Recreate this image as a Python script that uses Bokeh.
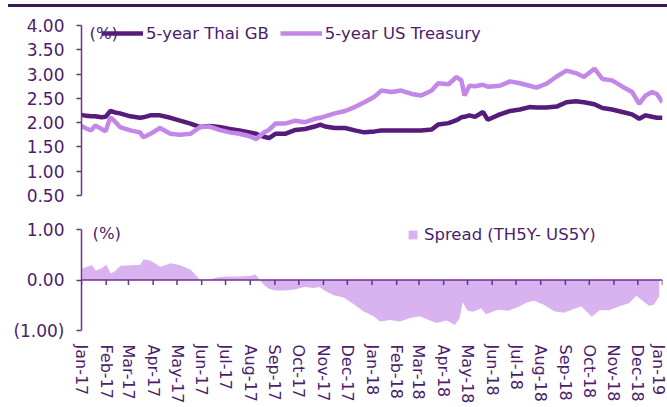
import numpy as np
import pandas as pd
from bokeh.plotting import figure
from bokeh.models import (ColumnDataSource, FixedTicker, NumeralTickFormatter, Legend, LegendItem,
                          Label, Span, Div, DatetimeTickFormatter, Range1d)
from bokeh.layouts import column
from bokeh.embed import file_html
from bokeh.resources import INLINE

# ---------------- data ----------------
dates = ["2017-01-02", "2017-01-08", "2017-01-14", "2017-01-19", "2017-01-27", "2017-02-01", "2017-02-07",
         "2017-02-13", "2017-02-19", "2017-03-04", "2017-03-16", "2017-03-20", "2017-03-29", "2017-04-10",
         "2017-04-23", "2017-05-05", "2017-05-18", "2017-05-30", "2017-06-11", "2017-06-23", "2017-07-06",
         "2017-07-18", "2017-07-31", "2017-08-08", "2017-08-12", "2017-08-18", "2017-08-24", "2017-09-01",
         "2017-09-13", "2017-09-26", "2017-10-08", "2017-10-20", "2017-10-27", "2017-11-02", "2017-11-14",
         "2017-11-27", "2017-12-09", "2017-12-21", "2018-01-03", "2018-01-11", "2018-01-24", "2018-02-05",
         "2018-02-18", "2018-03-02", "2018-03-15", "2018-03-23", "2018-04-05", "2018-04-15", "2018-04-21",
         "2018-04-25", "2018-05-01", "2018-05-08", "2018-05-18", "2018-05-24", "2018-06-08", "2018-06-21",
         "2018-07-03", "2018-07-15", "2018-07-24", "2018-08-05", "2018-08-18", "2018-08-30", "2018-09-11",
         "2018-09-21", "2018-10-04", "2018-10-14", "2018-10-26", "2018-11-08", "2018-11-20", "2018-11-29",
         "2018-12-07", "2018-12-15", "2018-12-21", "2018-12-28"]

thai_5y = [2.16, 2.14, 2.13, 2.13, 2.11, 2.12, 2.24, 2.21, 2.19, 2.13, 2.10, 2.11, 2.15, 2.15,
           2.10, 2.04, 1.98, 1.91, 1.93, 1.91, 1.87, 1.84, 1.80, 1.77, 1.74, 1.71, 1.68, 1.77,
           1.77, 1.85, 1.87, 1.92, 1.96, 1.92, 1.89, 1.89, 1.84, 1.80, 1.82, 1.84, 1.84, 1.84,
           1.84, 1.84, 1.86, 1.96, 1.99, 2.05, 2.11, 2.12, 2.15, 2.12, 2.22, 2.06, 2.17, 2.24,
           2.27, 2.32, 2.31, 2.31, 2.33, 2.42, 2.44, 2.42, 2.38, 2.30, 2.27, 2.22, 2.17, 2.08,
           2.15, 2.12, 2.10, 2.10]

us_5y = [1.93, 1.88, 1.84, 1.94, 1.87, 1.82, 2.11, 2.02, 1.91, 1.84, 1.80, 1.70, 1.77, 1.89,
         1.77, 1.75, 1.77, 1.91, 1.92, 1.85, 1.80, 1.77, 1.72, 1.66, 1.72, 1.80, 1.85, 1.98,
         1.98, 2.04, 2.01, 2.08, 2.10, 2.13, 2.19, 2.24, 2.32, 2.42, 2.54, 2.66, 2.63, 2.66,
         2.59, 2.56, 2.66, 2.81, 2.79, 2.94, 2.87, 2.56, 2.76, 2.75, 2.78, 2.74, 2.76, 2.85,
         2.81, 2.76, 2.72, 2.80, 2.95, 3.07, 3.02, 2.94, 3.11, 2.90, 2.87, 2.74, 2.63, 2.39,
         2.56, 2.63, 2.59, 2.42]

top_ticks = [0.5, 1.0, 1.5, 2.0, 2.5, 3.0, 3.5, 4.0]
bottom_ticks = [-1.0, 0.0, 1.0]
bottom_tick_labels = {-1.0: "(1.00)", 0.0: "0.00", 1.0: "1.00"}
month_starts = pd.date_range("2017-01-01", "2019-01-01", freq="MS")

series_names = ["5-year Thai GB", "5-year US Treasury"]
spread_name = "Spread (TH5Y- US5Y)"

# ---------------- styles ----------------
FONT = "DejaVu Sans"
TEXT = "#4B1D6B"
AXIS = "#6E3190"
TH_COLOR = "#561C7A"
US_COLOR = "#C387E8"
SPREAD_COLOR = "#D9B3F0"
BAR = "#371A52"

df = pd.DataFrame({"date": pd.to_datetime(dates), "th": thai_5y, "us": us_5y})
df["spread"] = df["th"] - df["us"]
src = ColumnDataSource(df)


def style_yaxis(ax):
    ax.axis_line_color = AXIS
    ax.axis_line_width = 1.5
    ax.major_tick_line_color = AXIS
    ax.major_tick_line_width = 1.5
    ax.major_tick_out = 5
    ax.major_tick_in = 0
    ax.minor_tick_line_color = None
    ax.major_label_text_font = FONT
    ax.major_label_text_font_size = "17px"
    ax.major_label_text_color = TEXT
    ax.major_label_standoff = 12


# ---------------- title bar ----------------
bar = Div(text="", width=659, height=3, margin=(4, 0, 0, 8), styles={"background-color": BAR})

# ---------------- top chart ----------------
p1 = figure(width=667, height=198, x_axis_type="datetime", output_backend="svg", toolbar_location=None,
            x_range=Range1d(pd.Timestamp(dates[0]), pd.Timestamp(dates[-1])),
            y_range=Range1d(0.5, 4.0),
            min_border_left=80, min_border_right=0, min_border_top=18, min_border_bottom=10)
p1.outline_line_color = None
p1.grid.visible = False
p1.xaxis.visible = False
style_yaxis(p1.yaxis[0])
p1.yaxis.ticker = FixedTicker(ticks=top_ticks)
p1.yaxis.formatter = NumeralTickFormatter(format="0.00")

r_th = p1.line(x="date", y="th", source=src, line_color=TH_COLOR, line_width=4.5)
r_us = p1.line(x="date", y="us", source=src, line_color=US_COLOR, line_width=4.5)

leg1 = Legend(items=[LegendItem(label=series_names[0], renderers=[r_th]),
                     LegendItem(label=series_names[1], renderers=[r_us])],
              orientation="horizontal", location=(20, 152), glyph_width=42, glyph_height=20,
              label_standoff=3, spacing=11, padding=0, margin=0, border_line_color=None,
              background_fill_alpha=0, label_text_font=FONT, label_text_font_size="16.5px",
              label_text_color=TEXT)
p1.add_layout(leg1)
p1.add_layout(Label(x=8, y=162, x_units="screen", y_units="screen", text="(%)", text_baseline="middle",
                    text_font=FONT, text_font_size="16.5px", text_color=TEXT))

# ---------------- bottom chart ----------------
# frame 212..330 px; -1..1 occupies the lower 101 px, axis line bounded to -1..1
p2 = figure(width=667, height=202, x_axis_type="datetime", output_backend="svg", toolbar_location=None,
            x_range=Range1d(month_starts[0], month_starts[-1]),
            y_range=Range1d(-1.0, 1.0 + 17 / 50.5),
            min_border_left=81, min_border_right=5, min_border_top=7, min_border_bottom=77)
p2.outline_line_color = None
p2.grid.visible = False
style_yaxis(p2.yaxis[0])
p2.yaxis.bounds = (-1.0, 1.0)
p2.yaxis.ticker = FixedTicker(ticks=bottom_ticks)
p2.yaxis.major_label_overrides = bottom_tick_labels

xa = p2.xaxis[0]
xa.axis_line_color = None
xa.major_tick_line_color = None
xa.minor_tick_line_color = None
xa.major_tick_out = 0
xa.major_tick_in = 0
xa.ticker = FixedTicker(ticks=[t.timestamp() * 1000 for t in month_starts])
xa.formatter = DatetimeTickFormatter(days="%b-%y", months="%b-%y", years="%b-%y", hours="%b-%y")
xa.major_label_orientation = "vertical"
xa.major_label_text_font = FONT
xa.major_label_text_font_size = "16px"
xa.major_label_text_color = TEXT
xa.major_label_standoff = 14

r_sp = p2.varea(x="date", y1=0, y2="spread", source=src, fill_color=SPREAD_COLOR)
p2.add_layout(Span(location=0, dimension="width", line_color=AXIS, line_width=1.5))
p2.segment(x0=month_starts, y0=0, x1=month_starts, y1=-0.1, line_color=AXIS, line_width=1.5)

leg2 = Legend(items=[LegendItem(label=spread_name, renderers=[r_sp])],
              location=(326, 86), glyph_width=11, glyph_height=11, label_standoff=6,
              padding=0, margin=0, border_line_color=None, background_fill_alpha=0,
              label_text_font=FONT, label_text_font_size="16.5px", label_text_color=TEXT)
p2.add_layout(leg2)
p2.add_layout(Label(x=11, y=97, x_units="screen", y_units="screen", text="(%)", text_baseline="middle",
                    text_font=FONT, text_font_size="16.5px", text_color=TEXT))

layout = column(bar, p1, p2, spacing=0)
open("out.html", "w").write(file_html(layout, INLINE))
